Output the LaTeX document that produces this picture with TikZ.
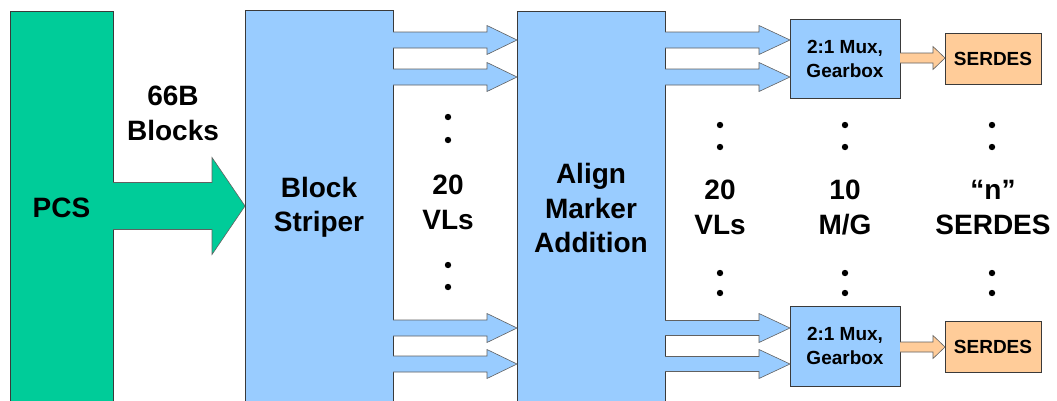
\documentclass[tikz,border=0pt]{standalone}
\usepackage{fontspec}
\setmainfont{Liberation Sans}
\usetikzlibrary{calc}
\definecolor{pcsgreen}{HTML}{00CC99}
\definecolor{lblue}{HTML}{99CCFF}
\definecolor{lorange}{HTML}{FFCC99}
\definecolor{edgegray}{HTML}{3A3A3A}
% #1 style, #2 start coord, #3 tip coord, #4 shaft half, #5 head half, #6 head length
\newcommand{\fatarrow}[6]{%
  \filldraw[#1] ($(#2)+(0,-#4)$) -- ($(#3)+(-#6,-#4)$) -- ($(#3)+(-#6,-#5)$) -- (#3)
    -- ($(#3)+(-#6,#5)$) -- ($(#3)+(-#6,#4)$) -- ($(#2)+(0,#4)$);}
\tikzset{
  box/.style={draw=edgegray, line width=0.8pt, inner sep=0pt, outer sep=0pt,
    align=center, font=\bfseries\fontsize{28}{34.5}\selectfont},
  smallbox/.style={box, font=\bfseries\fontsize{19}{24}\selectfont},
  lab/.style={align=center, font=\bfseries\fontsize{28}{35}\selectfont, inner sep=0pt},
  garrow/.style={fill=pcsgreen, draw=edgegray!80, line width=0.6pt, line join=miter},
  barrow/.style={fill=lblue, draw=edgegray!80, line width=0.6pt, line join=miter},
  oarrow/.style={fill=lorange, draw=edgegray!80, line width=0.6pt, line join=miter},
  dot/.style={fill=black}
}
\begin{document}
\begin{tikzpicture}[x=1pt, y=-1pt]
\clip (0,0) rectangle (1057,400);
\fill[white] (0,0) rectangle (1057,400);

% main blocks
\node[box, fill=pcsgreen, minimum width=103pt, minimum height=394pt] (pcs) at (61.5,208) {PCS};
\node[box, fill=lblue, minimum width=148pt, minimum height=395pt] (bs) at (319,207.5) {Block\\Striper};
\node[box, fill=lblue, minimum width=148pt, minimum height=394pt] (am) at (591,208) {Align\\Marker\\Addition};

\node[smallbox, fill=lblue, minimum width=110pt, minimum height=79pt] (mux1) at (845,58.5) {2:1 Mux,\\Gearbox};
\node[smallbox, fill=lblue, minimum width=110pt, minimum height=80pt] (mux2) at (845,346) {2:1 Mux,\\Gearbox};
\node[smallbox, fill=lorange, minimum width=96pt, minimum height=51pt] (ser1) at (993,58.5) {SERDES};
\node[smallbox, fill=lorange, minimum width=96pt, minimum height=51pt] (ser2) at (993,346.5) {SERDES};

% labels
\node[lab] (blocks) at (173,113) {66B\\Blocks};
\node[lab] (vl1) at (448,202) {20\\VLs};
\node[lab] (vl2) at (720,207) {20\\VLs};
\node[lab] (mg) at (845,207) {10\\M/G};
\node[lab] (nser) at (993,207) {“n”\\SERDES};

% arrow end coordinates
\coordinate (g0) at (pcs.east |- 0,206);
\coordinate (g1) at (bs.west |- 0,206);
\foreach \i/\y in {a/40,b/77,c/328,d/364}{
  \coordinate (s\i) at (bs.east |- 0,\y);
  \coordinate (e\i) at (am.west |- 0,\y);
}
\coordinate (fa) at (am.east |- 0,40);
\coordinate (fb) at (am.east |- 0,77);
\coordinate (fc) at (am.east |- 0,328);
\coordinate (fd) at (am.east |- 0,364);
\coordinate (ma) at (mux1.west |- 0,40);
\coordinate (mb) at (mux1.west |- 0,77);
\coordinate (mc) at (mux2.west |- 0,328);
\coordinate (md) at (mux2.west |- 0,364);
\coordinate (o1s) at (mux1.east |- 0,58);
\coordinate (o1e) at (ser1.west |- 0,58);
\coordinate (o2s) at (mux2.east |- 0,347);
\coordinate (o2e) at (ser2.west |- 0,347);

% arrows
\fatarrow{garrow}{g0}{g1}{23.5}{48.5}{33}
\foreach \i in {a,b,c,d}{
  \fatarrow{barrow}{s\i}{e\i}{8}{14.5}{30}
}
\fatarrow{barrow}{fa}{ma}{8}{14.5}{31}
\fatarrow{barrow}{fb}{mb}{8}{14.5}{31}
\fatarrow{barrow}{fc}{mc}{7.5}{14.5}{31}
\fatarrow{barrow}{fd}{md}{7.5}{14.5}{31}
\fatarrow{oarrow}{o1s}{o1e}{5}{11.5}{12}
\fatarrow{oarrow}{o2s}{o2e}{5}{11.5}{12}

% dots
\foreach \y in {117,140,265,287}{ \fill[dot] (448,\y) circle (3.2pt); }
\foreach \x in {720,845,992}{
  \foreach \y in {125,147,273,293}{ \fill[dot] (\x,\y) circle (3.2pt); }
}
\end{tikzpicture}
\end{document}
